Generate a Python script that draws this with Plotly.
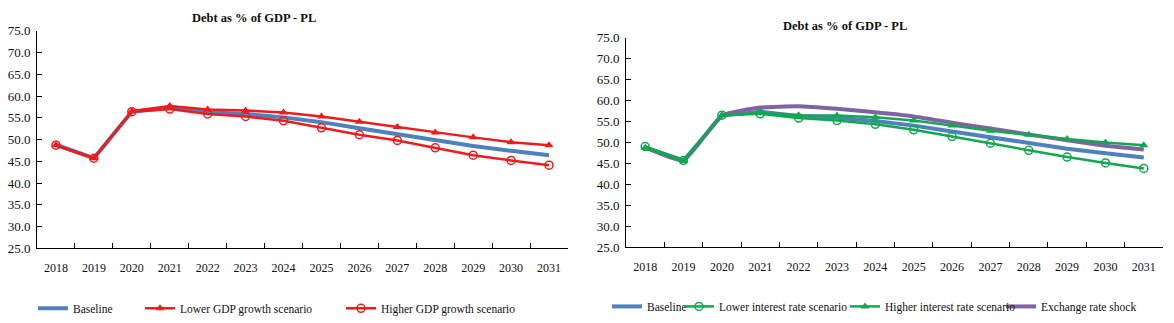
import plotly.graph_objects as go

years = [str(y) for y in range(2018, 2032)]

# Left panel: GDP growth scenarios
baseline = [48.8, 45.7, 56.4, 57.3, 56.3, 55.9, 55.1, 54.0, 52.6, 51.2, 49.8, 48.5, 47.4, 46.4]
lower_gdp = [48.7, 45.7, 56.5, 57.7, 56.9, 56.7, 56.2, 55.3, 54.1, 52.9, 51.6, 50.5, 49.4, 48.7]
higher_gdp = [48.7, 45.7, 56.4, 57.0, 55.9, 55.3, 54.3, 52.7, 51.1, 49.8, 48.1, 46.4, 45.2, 44.1]

# Right panel: interest rate and exchange rate scenarios
lower_ir = [49.0, 45.7, 56.5, 56.8, 55.8, 55.2, 54.3, 53.0, 51.4, 49.8, 48.1, 46.5, 45.1, 43.8]
higher_ir = [48.7, 45.5, 56.5, 57.0, 56.5, 56.4, 56.0, 55.2, 54.0, 52.8, 51.8, 50.8, 50.0, 49.3]
fx_shock = [48.8, 45.7, 56.4, 58.3, 58.6, 58.0, 57.2, 56.2, 54.7, 53.3, 51.9, 50.5, 49.2, 48.3]

title_text = "Debt as % of GDP - PL"

BLUE = "#4F81BD"
RED = "#EE1C1C"
GREEN = "#11A84F"
PURPLE = "#8064A2"
SERIF = "Liberation Serif"
W, H = 1174, 323

fig = go.Figure()

# Left panel
fig.add_trace(go.Scatter(x=years, y=baseline, name="Baseline", mode="lines", showlegend=True,
                         line=dict(color=BLUE, width=4), xaxis="x", yaxis="y", legend="legend"))
fig.add_trace(go.Scatter(x=years, y=lower_gdp, name="Lower GDP growth scenario", mode="lines+markers",
                         showlegend=True, line=dict(color=RED, width=2.5),
                         marker=dict(symbol="triangle-up", size=8, color=RED),
                         xaxis="x", yaxis="y", legend="legend2"))
fig.add_trace(go.Scatter(x=years, y=higher_gdp, name="Higher GDP growth scenario", mode="lines+markers",
                         showlegend=True, line=dict(color=RED, width=2.5),
                         marker=dict(symbol="circle-open", size=8, color=RED, line=dict(width=1.5)),
                         xaxis="x", yaxis="y", legend="legend3"))

# Right panel
fig.add_trace(go.Scatter(x=years, y=baseline, name="Baseline", mode="lines", showlegend=True,
                         line=dict(color=BLUE, width=4), xaxis="x2", yaxis="y2", legend="legend4"))
fig.add_trace(go.Scatter(x=years, y=fx_shock, name="Exchange rate shock", mode="lines", showlegend=True,
                         line=dict(color=PURPLE, width=4, shape="spline", smoothing=0.4),
                         xaxis="x2", yaxis="y2", legend="legend7"))
fig.add_trace(go.Scatter(x=years, y=lower_ir, name="Lower interest rate scenario", mode="lines+markers",
                         showlegend=True, line=dict(color=GREEN, width=2.5),
                         marker=dict(symbol="circle-open", size=8, color=GREEN, line=dict(width=1.5)),
                         xaxis="x2", yaxis="y2", legend="legend5"))
fig.add_trace(go.Scatter(x=years, y=higher_ir, name="Higher interest rate scenario", mode="lines+markers",
                         showlegend=True, line=dict(color=GREEN, width=2.5),
                         marker=dict(symbol="triangle-up", size=8, color=GREEN),
                         xaxis="x2", yaxis="y2", legend="legend6"))


def px_x(p):
    return p / W


def px_y(p):
    return (H - p) / H


xcommon = dict(type="category", range=[-0.5, 13.5], showline=True, linecolor="#000", linewidth=1,
               ticks="inside", ticklen=5, tickcolor="#000", tickson="boundaries",
               showgrid=False, zeroline=False, tickfont=dict(family=SERIF, size=12, color="#111"),
               ticklabelstandoff=8, fixedrange=True)
ycommon = dict(range=[25, 75], dtick=5, tickformat=".1f", showline=True, linecolor="#000", linewidth=1,
               ticks="inside", ticklen=5, tickcolor="#000", showgrid=False, zeroline=False,
               tickfont=dict(family=SERIF, size=13, color="#111"), ticklabelstandoff=3, fixedrange=True)

legend_common = dict(orientation="h", xanchor="left", yanchor="middle", bgcolor="rgba(0,0,0,0)",
                     font=dict(family=SERIF, size=11.5, color="#111"), itemwidth=30)

ly_left = px_y(316)
ly_right = px_y(314)

fig.update_layout(
    width=W, height=H,
    showlegend=True,
    margin=dict(l=0, r=0, t=0, b=0),
    paper_bgcolor="white", plot_bgcolor="white",
    xaxis=dict(domain=[px_x(37), px_x(568)], anchor="y", **xcommon),
    yaxis=dict(domain=[px_y(253), px_y(25)], anchor="x", **ycommon),
    xaxis2=dict(domain=[px_x(626), px_x(1163)], anchor="y2", **xcommon),
    yaxis2=dict(domain=[px_y(252), px_y(32)], anchor="x2", **ycommon),
    legend=dict(x=px_x(33), y=ly_left, **legend_common),
    legend2=dict(x=px_x(140), y=ly_left, **legend_common),
    legend3=dict(x=px_x(341), y=ly_left, **legend_common),
    legend4=dict(x=px_x(607), y=ly_right, **legend_common),
    legend5=dict(x=px_x(679), y=ly_right, **legend_common),
    legend6=dict(x=px_x(845), y=ly_right, **legend_common),
    legend7=dict(x=px_x(1001), y=ly_right, **legend_common),
    annotations=[
        dict(text="<b>" + title_text + "</b>", x=px_x(254), y=px_y(12), xref="paper", yref="paper",
             xanchor="center", yanchor="middle", showarrow=False,
             font=dict(family=SERIF, size=12.5, color="#111")),
        dict(text="<b>" + title_text + "</b>", x=px_x(845), y=px_y(20), xref="paper", yref="paper",
             xanchor="center", yanchor="middle", showarrow=False,
             font=dict(family=SERIF, size=12.5, color="#111")),
    ],
)

fig.write_html("out.html")
